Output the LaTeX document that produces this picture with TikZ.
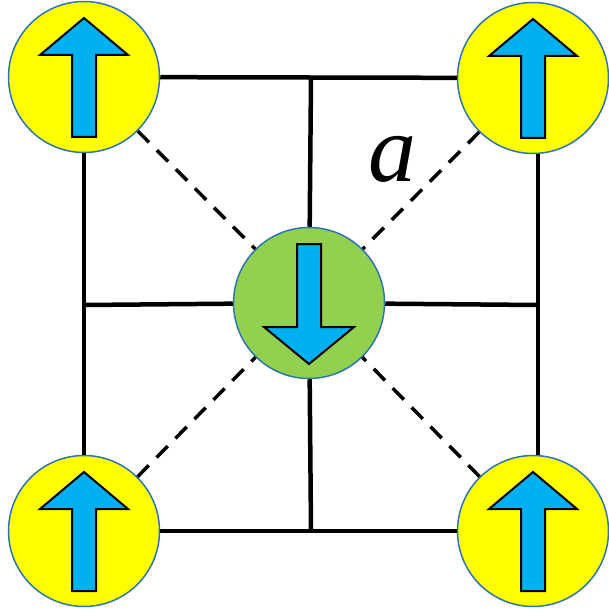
\documentclass[tikz,border=0pt]{standalone}
\usepackage{fontspec}
\setmainfont{Liberation Serif}

\definecolor{spinedge}{HTML}{2E75B6}
\definecolor{spinyellow}{HTML}{FFFF00}
\definecolor{spingreen}{HTML}{92D050}
\definecolor{arrowblue}{HTML}{00B0F0}

\tikzset{
  spin/.style={draw=spinedge, circle, line width=1.5pt, minimum size=151pt, inner sep=0pt},
  bond/.style={line width=4.5pt},
  diag/.style={line width=3.5pt, dash pattern=on 16pt off 11pt},
  arr/.style={draw=black, fill=arrowblue, line width=2pt, line join=miter},
}

\begin{document}
\begin{tikzpicture}[x=1pt, y=-1pt]
\useasboundingbox (0,0) rectangle (608,609);

\node[spin, fill=spinyellow] (tl) at (84,77) {};
\node[spin, fill=spinyellow] (tr) at (533,78) {};
\node[spin, fill=spinyellow] (bl) at (84,531) {};
\node[spin, fill=spinyellow] (br) at (533,531) {};
\node[spin, fill=spingreen] (c) at (309,303) {};

\coordinate (n) at (311,78);
\coordinate (s) at (311,531);
\coordinate (w) at (84,305);
\coordinate (e) at (538,305);

% square and middle lines
\draw[bond] (tl) -- (tr);
\draw[bond] (bl) -- (br);
\draw[bond] (tl) -- (bl);
\draw[bond] ([xshift=5pt]tr.south) -- ([xshift=5pt]br.north);
\draw[bond] (n) -- (c) -- (s);
\draw[bond] (w) -- (c) -- (e);

% diagonals
\foreach \s in {tl,tr,bl,br} {
    \draw[diag] (\s) -- (c);
}

% spins
\foreach \s in {tl,tr,bl,br} {
    \draw[arr, shift={(\s)}] (0,-59) -- (44,-22) -- (12,-22) -- (12,60)
        -- (-12,60) -- (-12,-22) -- (-44,-22) -- cycle;
}
\draw[arr, shift={(c)}] (0,61) -- (45,24) -- (12,24) -- (12,-59)
    -- (-12,-59) -- (-12,24) -- (-45,24) -- cycle;

\node[inner sep=0pt, anchor=base, font=\fontsize{96}{96}\selectfont\itshape] (lbl) at (392,182) {a};

\end{tikzpicture}
\end{document}
